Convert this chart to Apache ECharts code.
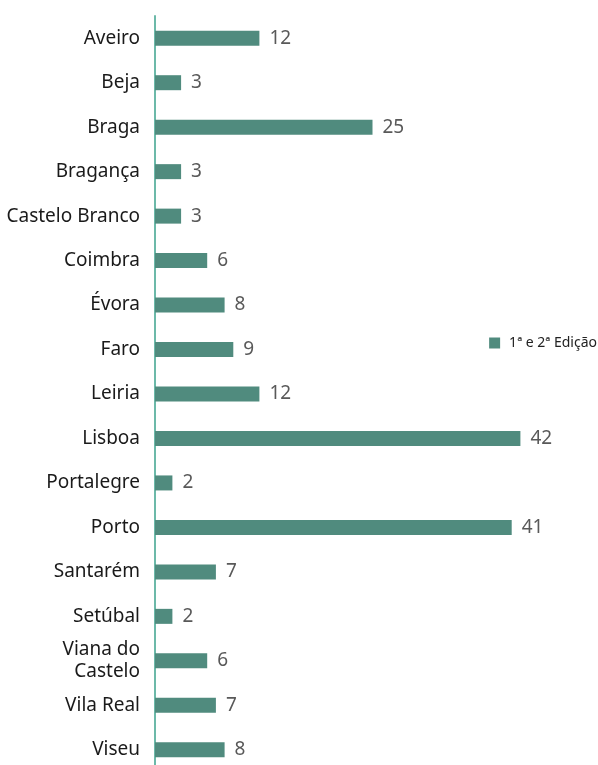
<!DOCTYPE html>
<html>
<head>
<meta charset="utf-8">
<script src="https://cdn.jsdelivr.net/npm/echarts@6/dist/echarts.min.js"></script>
<style>
  html, body { margin: 0; padding: 0; background: #fff; overflow: hidden; }
  #chart { width: 598px; height: 772px; }
</style>
</head>
<body>
<div id="chart"></div>
<script>
// Districts, top to bottom
const districts = [
  'Aveiro', 'Beja', 'Braga', 'Bragança', 'Castelo Branco', 'Coimbra', 'Évora',
  'Faro', 'Leiria', 'Lisboa', 'Portalegre', 'Porto', 'Santarém', 'Setúbal',
  'Viana do\nCastelo', 'Vila Real', 'Viseu'
];
// Count per district, same order
const counts = [12, 3, 25, 3, 3, 6, 8, 9, 12, 42, 2, 41, 7, 2, 6, 7, 8];
const seriesName = '1ª e 2ª Edição';

const font = 'Noto Sans';
const chart = echarts.init(document.getElementById('chart'));
chart.setOption({
  animation: false,
  textStyle: { fontFamily: font },
  legend: {
    right: 1,
    top: 336,
    padding: 0,
    orient: 'vertical',
    icon: 'rect',
    itemWidth: 11,
    itemHeight: 11,
    itemGap: 6,
    textStyle: { fontSize: 14, color: '#222', fontFamily: font, padding: [0, 0, 0, 4] },
    data: [seriesName]
  },
  grid: { left: 155, top: 16, right: 8, bottom: 0, containLabel: false },
  xAxis: {
    type: 'value',
    min: 0,
    max: 50,
    show: false
  },
  yAxis: {
    type: 'category',
    inverse: true,
    data: districts,
    axisLine: { show: true, lineStyle: { color: '#6cb9a9', width: 2 } },
    axisTick: { show: false },
    axisLabel: {
      margin: 15,
      fontSize: 19,
      color: '#1a1a1a',
      lineHeight: 22,
      fontFamily: font
    }
  },
  series: [{
    name: seriesName,
    type: 'bar',
    data: counts,
    barWidth: 15,
    itemStyle: { color: '#508b7e' },
    label: {
      show: true,
      position: 'right',
      distance: 10,
      fontSize: 19,
      color: '#595959',
      fontFamily: font
    }
  }]
});
</script>
</body>
</html>
